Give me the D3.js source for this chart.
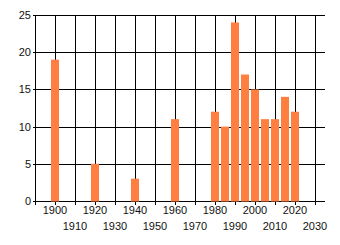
<!DOCTYPE html>
<html>
<head>
<meta charset="utf-8">
<script src="https://cdn.jsdelivr.net/npm/d3@7"></script>
<style>
  body { margin: 0; background: #fff; }
  svg { display: block; font-family: "Liberation Sans", Arial, sans-serif; }
</style>
</head>
<body>
<svg id="chart" width="340" height="245"></svg>
<script>
// data
const years = [1900, 1920, 1940, 1960, 1980, 1985, 1990, 1995, 2000, 2005, 2010, 2015, 2020];
const counts = [19, 5, 3, 11, 12, 10, 24, 17, 15, 11, 11, 14, 12];
const xTicks = [1890, 1900, 1910, 1920, 1930, 1940, 1950, 1960, 1970, 1980, 1990, 2000, 2010, 2020, 2030];
const yTicks = [0, 5, 10, 15, 20, 25];

const svg = d3.select("#chart");
const plotLeft = 35, plotRight = 325, plotTop = 15, plotBottom = 201;

const x = d3.scaleLinear().domain([1890, 2035]).range([plotLeft, plotRight]);
const y = d3.scaleLinear().domain([0, 25]).range([plotBottom, plotTop]);

// horizontal grid
svg.append("g")
  .selectAll("line")
  .data(yTicks)
  .enter()
  .append("line")
  .attr("x1", plotLeft - 2)
  .attr("x2", plotRight)
  .attr("y1", (d) => Math.round(y(d)) + 0.5)
  .attr("y2", (d) => Math.round(y(d)) + 0.5)
  .style("stroke", "#000");

// vertical grid + ticks below axis
svg.append("g")
  .selectAll("line")
  .data(xTicks)
  .enter()
  .append("line")
  .attr("x1", (d) => Math.round(x(d)) + 0.5)
  .attr("x2", (d) => Math.round(x(d)) + 0.5)
  .attr("y1", plotTop)
  .attr("y2", plotBottom + 4)
  .style("stroke", "#000");

// bars
svg.append("g")
  .selectAll("rect")
  .data(years)
  .enter()
  .append("rect")
  .attr("x", (d) => x(d - 2))
  .attr("width", (d) => x(d + 2) - x(d - 2))
  .attr("y", (d, i) => y(counts[i]))
  .attr("height", (d, i) => plotBottom + 0.5 - y(counts[i]))
  .style("fill", "#ff7f40");

// y labels
svg.append("g")
  .selectAll("text")
  .data(yTicks)
  .enter()
  .append("text")
  .attr("x", plotLeft - 4)
  .attr("y", (d) => y(d) + 4)
  .attr("text-anchor", "end")
  .attr("font-size", 11)
  .style("fill", "#111")
  .text((d) => d);

// x labels, staggered in two rows
svg.append("g")
  .selectAll("text")
  .data(xTicks.filter((d) => d > 1890))
  .enter()
  .append("text")
  .attr("x", (d) => x(d))
  .attr("y", (d) => (d % 20 === 0 ? 214 : 230))
  .attr("text-anchor", "middle")
  .attr("font-size", 11)
  .style("fill", "#111")
  .text((d) => d);
</script>
</body>
</html>
